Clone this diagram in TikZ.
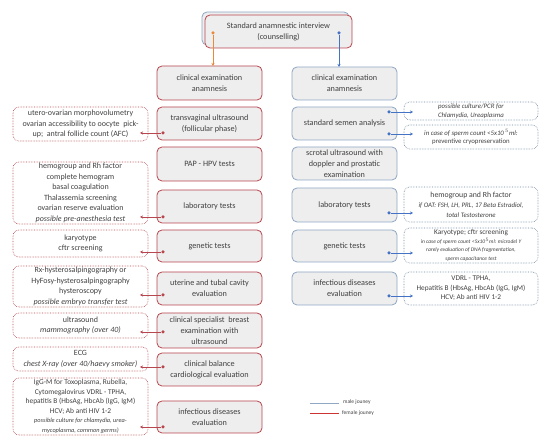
\documentclass[tikz,border=0pt]{standalone}
\usepackage{fontspec}
\setmainfont{Carlito}
\usetikzlibrary{arrows.meta}
\definecolor{fred}{HTML}{B8464E}
\definecolor{mblue}{HTML}{8FA6C4}
\definecolor{aorange}{HTML}{E8893B}
\definecolor{ablue}{HTML}{4472C4}
\definecolor{boxfill}{HTML}{EEEEEE}
\definecolor{txt}{HTML}{404040}
\begin{document}
\begin{tikzpicture}[x=1pt,y=-1pt,
  every node/.style={text=txt,font=\fontsize{8}{10.5}\selectfont,align=center,inner sep=0pt},
  mainf/.style={draw=fred,line width=0.8pt,fill=boxfill,rounded corners=5pt,minimum width=105pt,font=\fontsize{8.2}{10.8}\selectfont},
  mainm/.style={draw=mblue,line width=0.8pt,fill=boxfill,rounded corners=5pt,minimum width=105pt,font=\fontsize{8.2}{10.8}\selectfont},
  notef/.style={draw=fred,densely dotted,line width=0.6pt,rounded corners=6pt,minimum width=135pt},
  notem/.style={draw=mblue!80!black,densely dotted,line width=0.6pt,rounded corners=6pt,minimum width=134pt},
  arf/.style={draw=fred,line width=0.7pt,-{Stealth[length=3pt,width=3pt]}},
  arm/.style={draw=ablue,line width=0.7pt,-{Stealth[length=3pt,width=3pt]}},
  dotf/.style={fill=fred,circle,minimum size=3.5pt},
  dotm/.style={fill=ablue,circle,minimum size=3.5pt}]
\useasboundingbox (0,0) rectangle (550,446);
% top box
\node[draw=mblue,line width=0.8pt,fill=boxfill,rounded corners=5pt,minimum width=147pt,minimum height=33pt] (topb) at (275.5,28.5) {};
\node[draw=fred,line width=0.8pt,fill=boxfill,rounded corners=5pt,minimum width=147pt,minimum height=33pt,font=\fontsize{8.2}{10.8}\selectfont] (top) at (278.5,31.5) {Standard anamnestic interview\\(counselling)};
% female column
\node[mainf,minimum height=34pt] (f1) at (209.5,83) {clinical examination\\anamnesis};
\node[mainf,minimum height=33pt] (f2) at (209.5,123.5) {transvaginal ultrasound\\(follicular phase)};
\node[mainf,minimum height=34pt] (f3) at (209.5,164) {PAP - HPV tests};
\node[mainf,minimum height=33pt] (f4) at (209.5,206.5) {laboratory tests};
\node[mainf,minimum height=32pt] (f5) at (209.5,246) {genetic tests};
\node[mainf,minimum height=33pt] (f6) at (209.5,288.5) {uterine and tubal cavity\\evaluation};
\node[mainf,minimum height=35pt] (f7) at (209.5,330.5) {clinical specialist\ \ breast\\examination with\\ultrasound};
\node[mainf,minimum height=33pt] (f8) at (209.5,369.5) {clinical balance\\cardiological evaluation};
\node[mainf,minimum height=32pt] (f9) at (209.5,417) {infectious diseases\\evaluation};
% female notes
\node[notef,minimum height=34pt] (l1) at (80.5,124) {utero-ovarian morphovolumetry\\ovarian accessibility to oocyte\ \ pick-\\up;\ \ antral follicle count (AFC)};
\node[notef,minimum height=62pt] (l2) at (80.5,193) {hemogroup and Rh factor\\complete hemogram\\basal coagulation\\Thalassemia screening\\ovarian reserve evaluation\\\textit{possible pre-anesthesia test}};
\node[notef,minimum height=27pt] (l3) at (80.5,243.5) {karyotype\\cftr screening};
\node[notef,minimum height=41pt] (l4) at (80.5,286.5) {Rx-hysterosalpingography or\\HyFosy-hysterosalpingography\\hysteroscopy\\\textit{possible embryo transfer test}};
\node[notef,minimum height=25pt] (l5) at (80.5,325.5) {ultrasound\\\textit{mammography (over 40)}};
\node[notef,minimum height=24pt] (l6) at (80.5,359) {ECG\\\textit{chest X-ray (over 40/haevy smoker)}};
\node[notef,minimum height=57pt,font=\fontsize{7.4}{9.5}\selectfont] (l7) at (80.5,406.5) {IgG-M for Toxoplasma, Rubella,\\Cytomegalovirus VDRL - TPHA,\\hepatitis B (HbsAg, HbcAb (IgG, IgM)\\HCV; Ab anti HIV 1-2\\\fontsize{6.3}{8.5}\selectfont\itshape possible culture for chlamydia, urea-\\\fontsize{6.3}{8.5}\selectfont\itshape mycoplasma, common germs)};
% male column
\node[mainm,minimum height=33pt] (m1) at (344.5,83.5) {clinical examination\\anamnesis};
\node[mainm,minimum height=33pt] (m2) at (344.5,123.5) {standard semen analysis};
\node[mainm,minimum height=33pt] (m3) at (344.5,163.5) {scrotal ultrasound with\\doppler and prostatic\\examination};
\node[mainm,minimum height=34pt] (m4) at (344.5,205) {laboratory tests};
\node[mainm,minimum height=32pt] (m5) at (344.5,246) {genetic tests};
\node[mainm,minimum height=33pt] (m6) at (344.5,288.5) {infectious diseases\\evaluation};
% male notes
\node[notem,minimum height=18pt,font=\fontsize{6.8}{8.5}\selectfont\itshape] (r1) at (471,111) {possible culture/PCR for\\Chlamydia, Ureaplasma};
\node[notem,minimum height=24pt,font=\fontsize{6.8}{8.5}\selectfont] (r2) at (471,137) {\textit{in case of sperm count <5x10$^{\,5}$ml:}\\preventive cryopreservation};
\node[notem,minimum height=35pt,font=\fontsize{7.8}{10}\selectfont] (r3) at (471,204.5) {hemogroup and Rh factor\\\fontsize{6.8}{9.5}\selectfont\itshape if OAT: FSH, LH, PRL, 17 Beta Estradiol,\\\fontsize{6.8}{9.5}\selectfont\itshape total Testosterone};
\node[notem,minimum height=35pt,font=\fontsize{7.3}{8.5}\selectfont] (r4) at (471,245.5) {Karyotype; cftr screening\\\fontsize{5.5}{7.5}\selectfont\itshape in case of sperm count <5x10$^{5}$ml: microdel Y\\\fontsize{5.5}{7.5}\selectfont\itshape rarely evaluation of DNA fragmentation,\\\fontsize{5.5}{7.5}\selectfont\itshape sperm capacitance test};
\node[notem,minimum height=33pt,font=\fontsize{7.3}{9.5}\selectfont] (r5) at (471,288.5) {VDRL - TPHA,\\Hepatitis B (HbsAg, HbcAb (IgG, IgM)\\HCV; Ab anti HIV 1-2};
% top connectors
\coordinate (so) at (213,33);
\coordinate (sb) at (339,33);
\coordinate (eo) at (213,66);
\coordinate (eb) at (339,67);
\node[fill=aorange,circle,minimum size=3.5pt] (dso) at (so) {};
\node[fill=ablue,circle,minimum size=3.5pt] (dsb) at (sb) {};
\draw[aorange,line width=0.8pt,-{Stealth[length=3pt,width=3pt]}] (dso) -- (eo);
\draw[ablue,line width=0.8pt,-{Stealth[length=3pt,width=3pt]}] (dsb) -- (eb);
% female arrows
\foreach \n/\y in {2/133,4/217,5/252,6/295,7/332,8/367,9/427}{
  \node[dotf] (df\n) at (163,\y) {};
  \coordinate (ef\n) at (140,\y);
  \draw[arf] (df\n) -- (ef\n);
}
% male arrows
\foreach \n/\y in {1/112,2/134,3/213,4/253,5/296}{
  \node[dotm] (dm\n) at (389,\y) {};
  \coordinate (em\n) at (413,\y);
  \draw[arm] (dm\n) -- (em\n);
}
% legend
\coordinate (lm1) at (310,403); \coordinate (lm2) at (339,403);
\coordinate (lf1) at (310,413); \coordinate (lf2) at (339,413);
\draw[mblue,line width=0.8pt] (lm1) -- (lm2);
\draw[red!75!black!80,line width=0.8pt] (lf1) -- (lf2);
\node[anchor=west,font=\fontsize{5.5}{7}\selectfont] (tm) at (343,402) {male jouney};
\node[anchor=west,font=\fontsize{5.5}{7}\selectfont] (tf) at (342,413) {female jouney};
\end{tikzpicture}
\end{document}
